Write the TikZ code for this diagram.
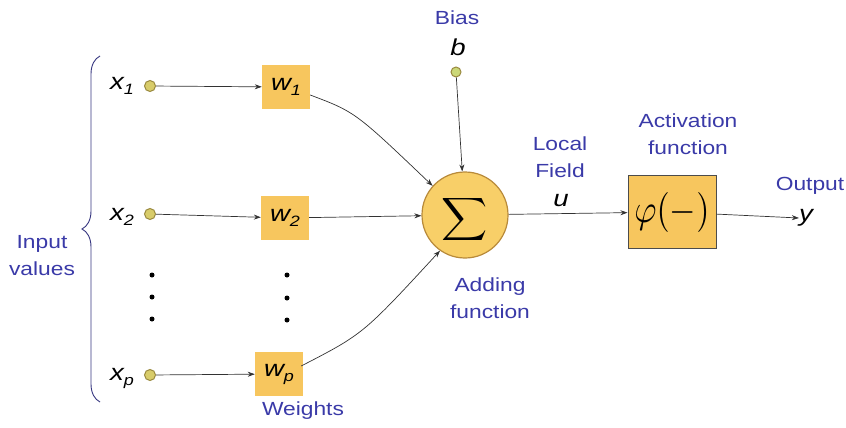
\documentclass[tikz,border=0pt]{standalone}
\usepackage{fontspec}
\setmainfont{Liberation Sans}[FakeStretch=1.2]
\usetikzlibrary{decorations.pathreplacing,arrows.meta,calc}
\definecolor{lblcol}{HTML}{3A3AA8}
\definecolor{boxfill}{HTML}{F7C65E}
\definecolor{sigfill}{HTML}{F8CF68}
\definecolor{sigdraw}{HTML}{B88A3A}
\definecolor{dotfill}{HTML}{D8CC6A}
\definecolor{dotdraw}{HTML}{9A8A40}
\definecolor{biasfill}{HTML}{CBD878}
\definecolor{bracecol}{HTML}{35357F}
\newcommand{\lowidx}[1]{\raisebox{-5pt}{\fontsize{15}{15}\selectfont #1}}
\begin{document}
\begin{tikzpicture}[x=1pt,y=-1pt,
  lbl/.style={text=lblcol, font=\fontsize{19}{27}\selectfont, align=center, inner sep=0pt},
  var/.style={font=\fontsize{23}{25}\selectfont\itshape, inner sep=0pt},
  inpt/.style={circle, fill=dotfill, draw=dotdraw, line width=1pt, minimum size=11pt, inner sep=0pt},
  wbox/.style={fill=boxfill, minimum width=48pt, minimum height=44pt, inner sep=0pt, font=\fontsize{23}{25}\selectfont\itshape},
  conn/.style={draw=black!80, line width=0.7pt, -{Stealth[length=7pt,width=5pt]}},
  vdot/.style={circle, fill=black, inner sep=0pt, minimum size=5pt}
]
\useasboundingbox (0,0) rectangle (846,428);

% brace and its label
\draw[bracecol, line width=0.9pt, decorate, decoration={brace, amplitude=18pt}] (100,402) -- (100,56);
\node[lbl] (inlbl) at (42,256) {Input\\values};

% inputs
\node[var] (x1) at (122,86) {x\lowidx{1}};
\node[var] (x2) at (122,217) {x\lowidx{2}};
\node[var] (xp) at (122,378) {x\lowidx{p}};
\node[inpt] (c1) at (150,86) {};
\node[inpt] (c2) at (150,214) {};
\node[inpt] (cp) at (150,375) {};
\node[vdot] (d1) at (152,275) {};
\node[vdot] (d2) at (152,297) {};
\node[vdot] (d3) at (152,319) {};

% weights
\node[wbox] (w1) at (286,87) {w\lowidx{1}};
\node[wbox] (w2) at (285,218) {w\lowidx{2}};
\node[wbox] (wp) at (279,374) {w\lowidx{p}};
\node[vdot] (e1) at (287,275) {};
\node[vdot] (e2) at (287,298) {};
\node[vdot] (e3) at (287,320) {};
\node[lbl] (wlbl) at (303,411) {Weights};

% adder
\node[circle, fill=sigfill, draw=sigdraw, line width=1.2pt, minimum size=86pt, inner sep=0pt] (sig) at (465,215) {};
\node (sigsym) at (465,219) {\scalebox{3.2}[3.0]{$\displaystyle\sum$}};
\node[lbl] (addlbl) at (490,298) {Adding\\function};

% bias
\node[lbl] (biaslbl) at (457,18) {Bias};
\node[var] (b) at (458,47) {b};
\node[inpt, fill=biasfill, minimum size=10pt] (bc) at (456,72) {};

% local field
\node[lbl] (lf) at (560,157) {Local\\Field};
\node[var] (u) at (561,201) {u};

% activation
\node[fill=boxfill, draw=black!70, line width=1pt, minimum width=88pt, minimum height=73pt, inner sep=0pt] (phi) at (672,212) {\scalebox{3.4}[4.0]{$\varphi(-)$}};
\node[lbl] (actlbl) at (688,134) {Activation\\function};

% output
\node[lbl] (outlbl) at (810,186) {Output};
\node[var] (y) at (806,218) {y};

% connectors
\draw[conn] (c1) -- (w1);
\draw[conn] (c2) -- (w2);
\draw[conn] (cp) -- (wp);
\draw[conn] (bc) -- (sig);
\draw[conn] ($(w1.east)+(0,8)$) .. controls ($(w1.east)+(45,25)$) .. (sig.138);
\draw[conn] (w2) -- (sig);
\draw[conn] ($(wp.east)+(-2,-8)$) .. controls ($(wp.east)+(60,-40)$) .. (sig.235);
\draw[conn] (sig) -- (phi);
\draw[conn] (phi) -- (y.west);
\end{tikzpicture}
\end{document}
